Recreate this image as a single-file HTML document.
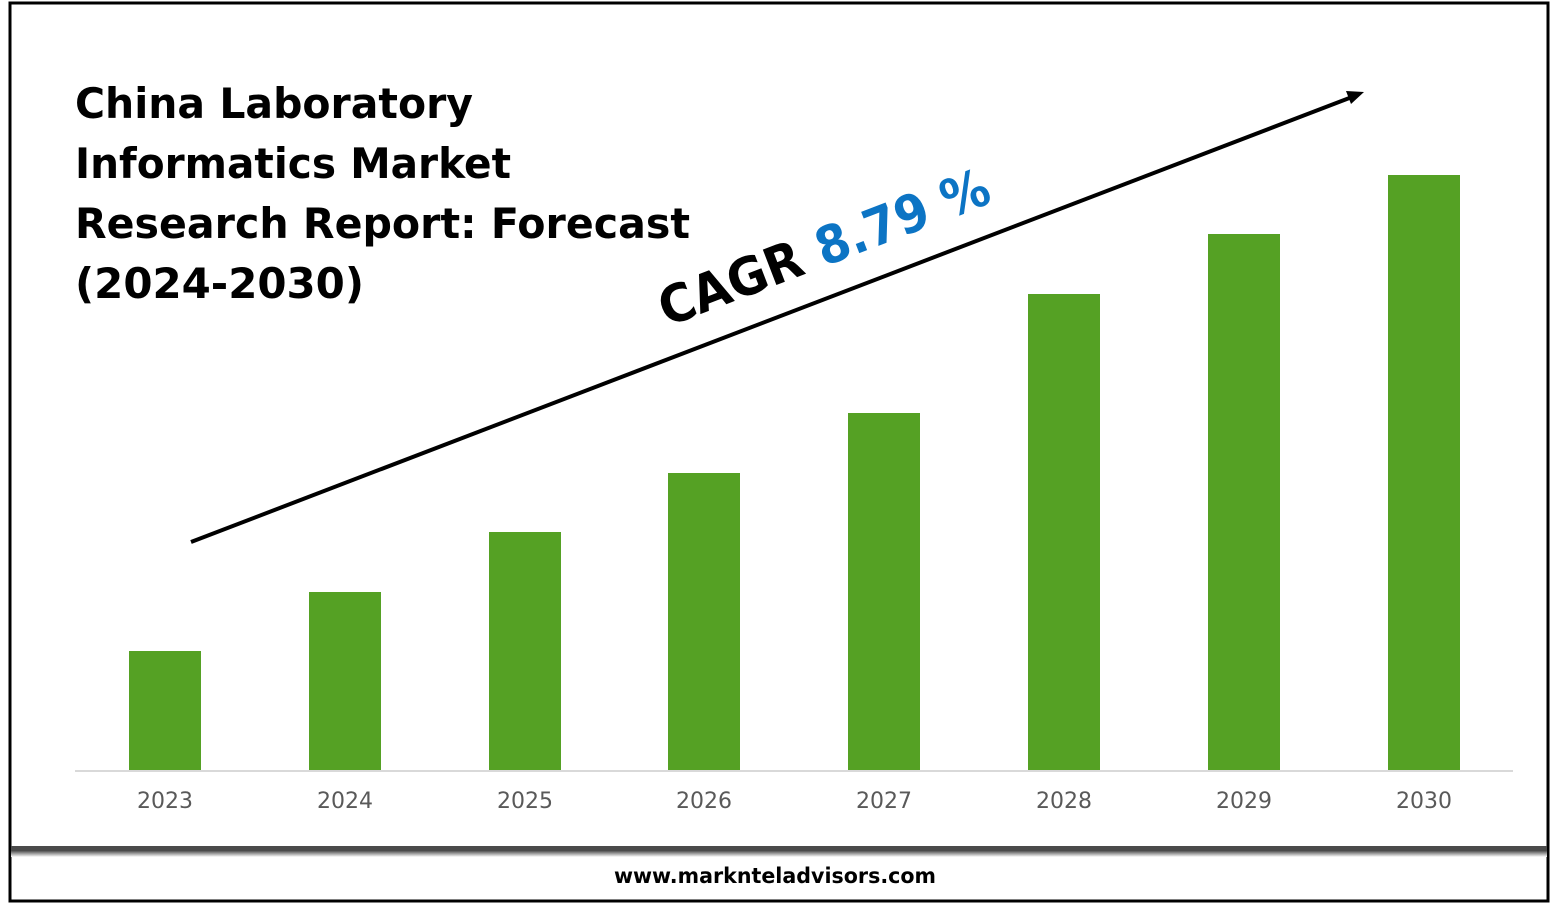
<!DOCTYPE html>
<html><head><style>
html,body{margin:0;padding:0;background:#fff;}
svg{display:block;}
</style></head><body>
<svg width="1557" height="906" viewBox="0 0 1557 906" xmlns="http://www.w3.org/2000/svg">
<defs>
<linearGradient id="sh" x1="0" y1="0" x2="0" y2="1">
<stop offset="0" stop-color="#555"/><stop offset="1" stop-color="#fff"/>
</linearGradient>
</defs>
<rect x="0" y="0" width="1557" height="906" fill="#fff"/>
<rect x="10" y="3" width="1538" height="898" fill="none" stroke="#000" stroke-width="3"/>
<rect x="11" y="846" width="1536" height="5" fill="#4a4a4a"/>
<rect x="11" y="851" width="1536" height="6" fill="url(#sh)"/>
<g font-family="DejaVu Sans, sans-serif" font-weight="bold" font-size="42" fill="#000">
<text x="75" y="118" textLength="398" lengthAdjust="spacingAndGlyphs">China Laboratory</text>
<text x="75" y="178" textLength="436" lengthAdjust="spacingAndGlyphs">Informatics Market</text>
<text x="75" y="238" textLength="615" lengthAdjust="spacingAndGlyphs">Research Report: Forecast</text>
<text x="75" y="298" textLength="289" lengthAdjust="spacingAndGlyphs">(2024-2030)</text>
</g>
<line x1="75" y1="771" x2="1513" y2="771" stroke="#d9d9d9" stroke-width="2"/>
<g fill="#55a124">
<rect x="129" y="651" width="72" height="119"/>
<rect x="309" y="592" width="72" height="178"/>
<rect x="489" y="532" width="72" height="238"/>
<rect x="668" y="473" width="72" height="297"/>
<rect x="848" y="413" width="72" height="357"/>
<rect x="1028" y="294" width="72" height="476"/>
<rect x="1208" y="234" width="72" height="536"/>
<rect x="1388" y="175" width="72" height="595"/>
</g>
<g font-family="DejaVu Sans, sans-serif" font-size="22" fill="#595959" text-anchor="middle">
<text x="165" y="808">2023</text><text x="345" y="808">2024</text><text x="525" y="808">2025</text>
<text x="704" y="808">2026</text><text x="884" y="808">2027</text><text x="1064" y="808">2028</text>
<text x="1244" y="808">2029</text><text x="1424" y="808">2030</text>
</g>
<line x1="191" y1="542" x2="1352" y2="97" stroke="#000" stroke-width="4"/>
<polygon points="1364,92 1346,91 1351,104" fill="#000"/>
<g transform="translate(667,327) rotate(-21)" font-family="DejaVu Sans, sans-serif" font-weight="bold" font-size="52">
<text x="0" y="0" fill="#000" textLength="150" lengthAdjust="spacingAndGlyphs">CAGR</text>
<text x="168" y="0" fill="#0c74c4" textLength="182" lengthAdjust="spacingAndGlyphs">8.79 %</text>
</g>
<text x="775" y="883" text-anchor="middle" font-family="DejaVu Sans, sans-serif" font-weight="bold" font-size="21" fill="#000" textLength="322" lengthAdjust="spacingAndGlyphs">www.marknteladvisors.com</text>
</svg>
</body></html>
